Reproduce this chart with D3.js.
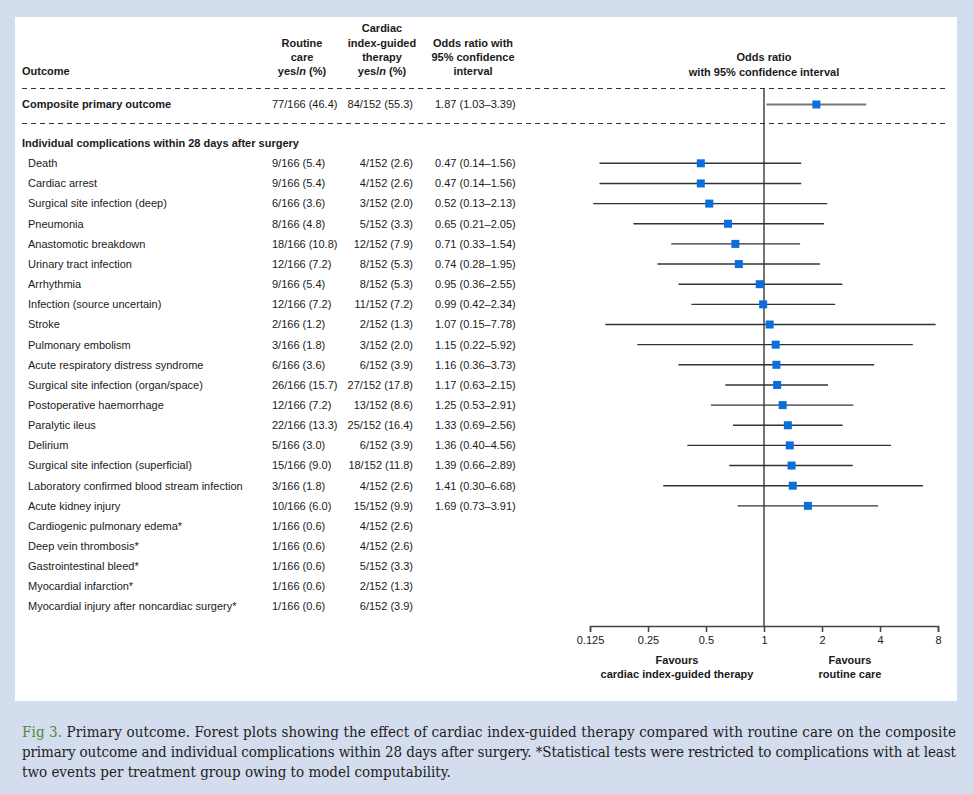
<!DOCTYPE html>
<html>
<head>
<meta charset="utf-8">
<script src="https://cdn.jsdelivr.net/npm/d3@7"></script>
<style>
  html, body { margin: 0; padding: 0; background: #d4ddee; }
  svg { display: block; }
</style>
</head>
<body>
<svg id="chart" width="974" height="794"></svg>
<script>
// ---------------- DATA ----------------
const compositeLabel = "Composite primary outcome";
const compositeRoutine = "77/166 (46.4)";
const compositeCardiac = "84/152 (55.3)";
const compositeOrText = "1.87 (1.03\u20133.39)";
const compositeOr = [1.87, 1.03, 3.39];

const sectionLabel = "Individual complications within 28 days after surgery";

const outcomes = [
  "Death", "Cardiac arrest", "Surgical site infection (deep)", "Pneumonia",
  "Anastomotic breakdown", "Urinary tract infection", "Arrhythmia",
  "Infection (source uncertain)", "Stroke", "Pulmonary embolism",
  "Acute respiratory distress syndrome", "Surgical site infection (organ/space)",
  "Postoperative haemorrhage", "Paralytic ileus", "Delirium",
  "Surgical site infection (superficial)", "Laboratory confirmed blood stream infection",
  "Acute kidney injury", "Cardiogenic pulmonary edema*", "Deep vein thrombosis*",
  "Gastrointestinal bleed*", "Myocardial infarction*",
  "Myocardial injury after noncardiac surgery*"
];
const routineCare = [
  "9/166 (5.4)", "9/166 (5.4)", "6/166 (3.6)", "8/166 (4.8)", "18/166 (10.8)",
  "12/166 (7.2)", "9/166 (5.4)", "12/166 (7.2)", "2/166 (1.2)", "3/166 (1.8)",
  "6/166 (3.6)", "26/166 (15.7)", "12/166 (7.2)", "22/166 (13.3)", "5/166 (3.0)",
  "15/166 (9.0)", "3/166 (1.8)", "10/166 (6.0)", "1/166 (0.6)", "1/166 (0.6)",
  "1/166 (0.6)", "1/166 (0.6)", "1/166 (0.6)"
];
const cardiacGuided = [
  "4/152 (2.6)", "4/152 (2.6)", "3/152 (2.0)", "5/152 (3.3)", "12/152 (7.9)",
  "8/152 (5.3)", "8/152 (5.3)", "11/152 (7.2)", "2/152 (1.3)", "3/152 (2.0)",
  "6/152 (3.9)", "27/152 (17.8)", "13/152 (8.6)", "25/152 (16.4)", "6/152 (3.9)",
  "18/152 (11.8)", "4/152 (2.6)", "15/152 (9.9)", "4/152 (2.6)", "4/152 (2.6)",
  "5/152 (3.3)", "2/152 (1.3)", "6/152 (3.9)"
];
const oddsRatio = [0.47, 0.47, 0.52, 0.65, 0.71, 0.74, 0.95, 0.99, 1.07, 1.15,
  1.16, 1.17, 1.25, 1.33, 1.36, 1.39, 1.41, 1.69, null, null, null, null, null];
const ciLower = [0.14, 0.14, 0.13, 0.21, 0.33, 0.28, 0.36, 0.42, 0.15, 0.22,
  0.36, 0.63, 0.53, 0.69, 0.40, 0.66, 0.30, 0.73, null, null, null, null, null];
const ciUpper = [1.56, 1.56, 2.13, 2.05, 1.54, 1.95, 2.55, 2.34, 7.78, 5.92,
  3.73, 2.15, 2.91, 2.56, 4.56, 2.89, 6.68, 3.91, null, null, null, null, null];

const tickValues = [0.125, 0.25, 0.5, 1, 2, 4, 8];
const tickLabels = ["0.125", "0.25", "0.5", "1", "2", "4", "8"];

const caption = [
  "Primary outcome. Forest plots showing the effect of cardiac index-guided therapy compared with routine care on the composite",
  "primary outcome and individual complications within 28 days after surgery. *Statistical tests were restricted to complications with at least",
  "two events per treatment group owing to model computability."
];

// ---------------- DRAW ----------------
const svg = d3.select("#chart");
const FONT = "'Liberation Sans', Arial, Helvetica, sans-serif";
const ink = "#1a1a1a";

// white panel
svg.append("rect").attr("x", 15).attr("y", 17).attr("width", 942).attr("height", 684)
  .attr("fill", "#ffffff");

const x = d3.scaleLog().base(2).domain([0.125, 8]).range([590, 938]);
const rowY = d3.scaleLinear().domain([0, 1]).range([163.3, 183.45]);

const g = svg.append("g").style("font-family", FONT).style("font-size", "11px").attr("fill", ink);

// column headers
const hdr = g.append("g").style("font-weight", "bold");
function headerLines(lines, cx, ys) {
  lines.forEach((t, i) => {
    const tx = hdr.append("text").attr("x", cx).attr("y", ys[i]).attr("text-anchor", "middle")
      .attr("dy", "0.35em");
    if (t.includes("/n")) {
      tx.append("tspan").text("yes/");
      tx.append("tspan").style("font-style", "italic").text("n");
      tx.append("tspan").text(" (%)");
    } else tx.text(t);
  });
}
hdr.append("text").attr("x", 22).attr("y", 71).attr("dy", "0.35em").text("Outcome");
headerLines(["Routine", "care", "yes/n (%)"], 302, [43, 57, 71]);
headerLines(["Cardiac", "index-guided", "therapy", "yes/n (%)"], 382, [28.5, 43, 57, 71]);
headerLines(["Odds ratio with", "95% confidence", "interval"], 473, [43, 57, 71]);
headerLines(["Odds ratio", "with 95% confidence interval"], 764, [57, 72]);

// dashed separators
[88.5, 123.5].forEach(yy => {
  g.append("line").attr("x1", 22).attr("x2", 948).attr("y1", yy).attr("y2", yy)
    .attr("stroke", "#333").attr("stroke-width", 1.1).attr("stroke-dasharray", "5,4");
});

// reference line at OR = 1
g.append("line").attr("x1", x(1)).attr("x2", x(1)).attr("y1", 88).attr("y2", 626)
  .attr("stroke", "#444").attr("stroke-width", 1.5);

// composite row
const cy = 104.5;
g.append("text").attr("x", 22).attr("y", cy).attr("dy", "0.35em").style("font-weight", "bold")
  .text(compositeLabel);
g.append("text").attr("x", 272).attr("y", cy).attr("dy", "0.35em").text(compositeRoutine);
g.append("text").attr("x", 413).attr("y", cy).attr("dy", "0.35em").attr("text-anchor", "end").text(compositeCardiac);
g.append("text").attr("x", 435).attr("y", cy).attr("dy", "0.35em").text(compositeOrText);
g.append("line").attr("x1", x(compositeOr[1])).attr("x2", x(compositeOr[2])).attr("y1", cy).attr("y2", cy)
  .attr("stroke", "#777").attr("stroke-width", 2);
g.append("rect").attr("x", x(compositeOr[0]) - 4).attr("y", cy - 4).attr("width", 8).attr("height", 8)
  .attr("fill", "#0a6edc");

// section header
g.append("text").attr("x", 22).attr("y", 143.5).attr("dy", "0.35em").style("font-weight", "bold")
  .text(sectionLabel);

// rows
const rows = g.selectAll("g.row").data(outcomes.map((d, i) => ({
  label: d, rc: routineCare[i], cg: cardiacGuided[i], or: oddsRatio[i], lo: ciLower[i], hi: ciUpper[i], i
}))).join("g").attr("class", "row").attr("transform", d => `translate(0,${rowY(d.i)})`);

rows.append("text").attr("x", 28).attr("dy", "0.35em").text(d => d.label);
rows.append("text").attr("x", 272).attr("dy", "0.35em").text(d => d.rc);
rows.append("text").attr("x", 413).attr("dy", "0.35em").attr("text-anchor", "end").text(d => d.cg);
rows.filter(d => d.or != null).append("text").attr("x", 435).attr("dy", "0.35em")
  .text(d => `${d.or.toFixed(2)} (${d.lo.toFixed(2)}\u2013${d.hi.toFixed(2)})`);

const est = rows.filter(d => d.or != null);
est.append("line").attr("x1", d => x(d.lo)).attr("x2", d => x(d.hi)).attr("y1", 0).attr("y2", 0)
  .attr("stroke", "#333").attr("stroke-width", 1.4);
est.append("rect").attr("x", d => x(d.or) - 4).attr("y", -4).attr("width", 8).attr("height", 8)
  .attr("fill", "#0a6edc");

// axis
const axis = d3.axisBottom(x).tickValues(tickValues)
  .tickFormat((d, i) => tickLabels[i]).tickSizeOuter(0).tickSize(6).tickPadding(4);
const ax = svg.append("g").attr("transform", "translate(0,626)").call(axis);
ax.select(".domain").attr("stroke", "#444").attr("stroke-width", 1.5);
ax.selectAll(".tick line").attr("stroke", "#444").attr("stroke-width", 1.5);
ax.selectAll(".tick text").attr("fill", ink).style("font-family", FONT).style("font-size", "11px");

// favours labels
const fav = g.append("g").style("font-weight", "bold").attr("text-anchor", "middle");
fav.append("text").attr("x", 677).attr("y", 660).attr("dy", "0.35em").text("Favours");
fav.append("text").attr("x", 677).attr("y", 674.5).attr("dy", "0.35em").text("cardiac index-guided therapy");
fav.append("text").attr("x", 850).attr("y", 660).attr("dy", "0.35em").text("Favours");
fav.append("text").attr("x", 850).attr("y", 674.5).attr("dy", "0.35em").text("routine care");

// caption
const cap = svg.append("g").style("font-family", "'DejaVu Serif Condensed', 'DejaVu Serif', serif")
  .style("font-size", "15px").attr("fill", "#222");
const capY = [732, 752, 772];
caption.forEach((line, i) => {
  const t = cap.append("text").attr("x", 22).attr("y", capY[i]).attr("dy", "0.35em");
  if (i < 2) t.attr("textLength", 934).attr("lengthAdjust", "spacing");
  if (i === 0) {
    t.append("tspan").attr("fill", "#4e8a3a").text("Fig 3. ");
  }
  t.append("tspan").text(line);
});
</script>
</body>
</html>
